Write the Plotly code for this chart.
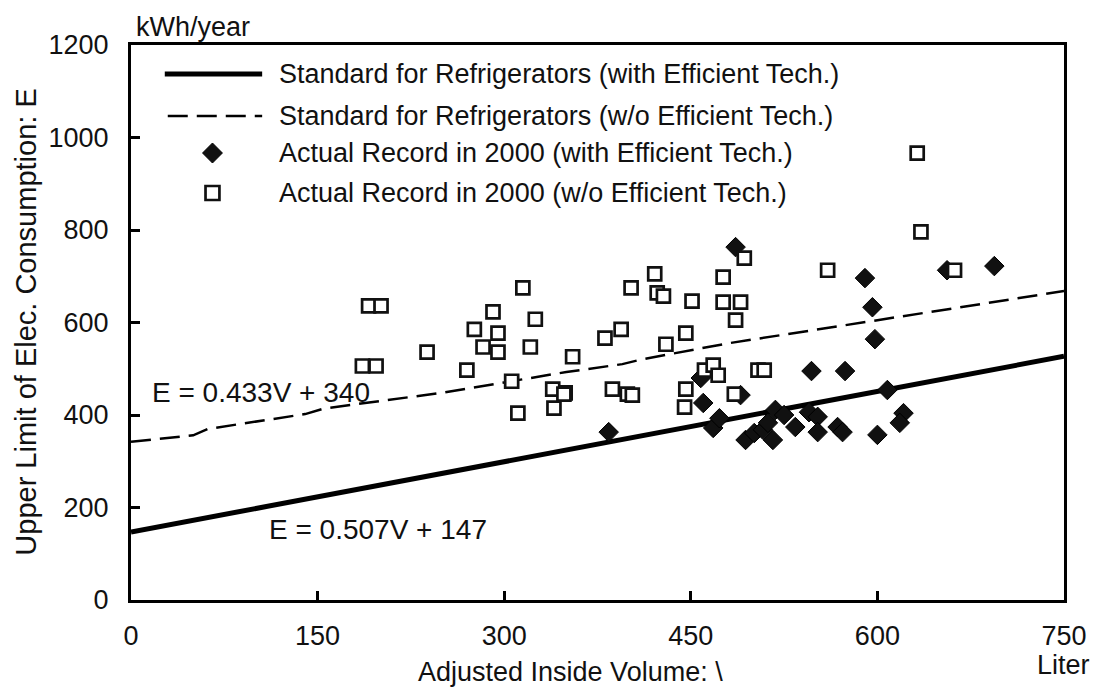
import plotly.graph_objects as go

# ---------------- data ----------------
std_with_V = [0, 750]
std_with_E = [147, 527]

std_wo_V = [0, 50, 62, 140, 155, 250, 350, 395, 410, 480, 600, 750]
std_wo_E = [342, 356, 370, 402, 414, 448, 493, 510, 520, 555, 605, 668]

rec_with_V = [486, 590, 596, 598, 656, 694, 547, 574, 384, 460, 458, 468, 473, 490,
              494, 501, 508, 516, 518, 525, 534, 545, 552, 552, 568, 572, 600, 608,
              621, 618, 512]
rec_with_E = [763, 696, 633, 564, 713, 722, 495, 495, 363, 426, 480, 372, 393, 443,
              346, 361, 368, 346, 411, 400, 374, 406, 396, 363, 374, 363, 357, 454,
              404, 383, 383]

rec_wo_V = [632, 635, 560, 662, 493, 476, 476, 490, 486, 421, 402, 423, 428, 451,
            394, 381, 446, 430, 355, 349, 387, 399, 403, 446, 445, 461, 468, 472,
            485, 504, 509, 315, 291, 325, 276, 295, 283, 295, 321, 238, 270, 306,
            339, 348, 311, 340, 186, 197, 191, 201]
rec_wo_E = [966, 796, 713, 713, 739, 698, 644, 644, 605, 705, 675, 664, 657, 646,
            585, 566, 577, 553, 526, 448, 456, 445, 443, 456, 417, 497, 508, 486,
            445, 497, 497, 675, 623, 607, 585, 577, 547, 536, 547, 536, 497, 473,
            456, 445, 404, 415, 506, 506, 636, 636]

x_ticks = [0, 150, 300, 450, 600, 750]
y_ticks = [0, 200, 400, 600, 800, 1000, 1200]

legend_labels = [
    "Standard for Refrigerators (with Efficient Tech.)",
    "Standard for Refrigerators (w/o Efficient Tech.)",
    "Actual Record in 2000 (with Efficient Tech.)",
    "Actual Record in 2000 (w/o Efficient Tech.)",
]

# ---------------- layout helpers ----------------
W, H = 1099, 691
L, R, T, B = 131, 1070, 45, 600
FONT = "Arial, Liberation Sans, sans-serif"
TXT = "#111111"
FS = 27


def px(x):
    return (x - L) / (R - L)


def py(y):
    return (B - y) / (B - T)


fig = go.Figure()

fig.add_trace(go.Scatter(x=std_with_V, y=std_with_E, mode="lines",
                         line=dict(color="black", width=5), name=legend_labels[0],
                         showlegend=False))
fig.add_trace(go.Scatter(x=std_wo_V, y=std_wo_E, mode="lines",
                         line=dict(color="black", width=2.5, dash="20px,9px"),
                         name=legend_labels[1], showlegend=False))
fig.add_trace(go.Scatter(x=rec_with_V, y=rec_with_E, mode="markers",
                         marker=dict(symbol="diamond", size=15, color="#111111",
                                     line=dict(color="black", width=1)),
                         name=legend_labels[2], showlegend=False))
fig.add_trace(go.Scatter(x=rec_wo_V, y=rec_wo_E, mode="markers",
                         marker=dict(symbol="square", size=13, color="white",
                                     line=dict(color="#111111", width=2.7)),
                         name=legend_labels[3], showlegend=False))

# ---------------- custom legend ----------------
shapes = []
annotations = []
rows_y = [74, 116, 153, 193]
shapes.append(dict(type="line", xref="paper", yref="paper",
                   x0=px(165), x1=px(263), y0=py(rows_y[0]), y1=py(rows_y[0]),
                   line=dict(color="black", width=5)))
shapes.append(dict(type="line", xref="paper", yref="paper",
                   x0=px(168), x1=px(263), y0=py(rows_y[1]), y1=py(rows_y[1]),
                   line=dict(color="black", width=2.5, dash="20px,9px")))
cx, cy, r = 213, rows_y[2], 10
shapes.append(dict(type="path", xref="paper", yref="paper",
                   path=f"M {px(cx - r)} {py(cy)} L {px(cx)} {py(cy - r)} L {px(cx + r)} {py(cy)} L {px(cx)} {py(cy + r)} Z",
                   fillcolor="#111111", line=dict(color="black", width=1)))
cy, s = rows_y[3], 7
shapes.append(dict(type="rect", xref="paper", yref="paper",
                   x0=px(cx - s), x1=px(cx + s), y0=py(cy + s), y1=py(cy - s),
                   fillcolor="white", line=dict(color="#111111", width=2.7)))
for lab, yy in zip(legend_labels, rows_y):
    annotations.append(dict(text=lab, xref="paper", yref="paper", x=px(278), y=py(yy),
                            xanchor="left", yanchor="middle", showarrow=False,
                            font=dict(family=FONT, size=FS, color=TXT)))

# ---------------- other texts ----------------
annotations += [
    dict(text="E = 0.433V + 340", xref="paper", yref="paper", x=px(150), y=py(392),
         xanchor="left", yanchor="middle", showarrow=False,
         font=dict(family=FONT, size=28, color=TXT)),
    dict(text="E = 0.507V + 147", xref="paper", yref="paper", x=px(268), y=py(529),
         xanchor="left", yanchor="middle", showarrow=False,
         font=dict(family=FONT, size=28, color=TXT)),
    dict(text="kWh/year", xref="paper", yref="paper", x=px(134), y=py(27),
         xanchor="left", yanchor="middle", showarrow=False,
         font=dict(family=FONT, size=FS, color=TXT)),
    dict(text="Liter", xref="paper", yref="paper", x=px(1069), y=py(665),
         xanchor="center", yanchor="middle", showarrow=False,
         font=dict(family=FONT, size=FS, color=TXT)),
    dict(text="Adjusted Inside Volume: \\", xref="paper", yref="paper", x=px(573), y=py(689),
         xanchor="center", yanchor="bottom", showarrow=False,
         font=dict(family=FONT, size=27, color=TXT)),
    dict(text="Upper Limit of Elec. Consumption: E", xref="paper", yref="paper",
         x=px(25), y=py(322), xanchor="center", yanchor="middle", textangle=-90,
         showarrow=False, font=dict(family=FONT, size=29, color=TXT)),
]

axis_common = dict(showline=True, linecolor="black", linewidth=3, mirror=True,
                   ticks="inside", ticklen=9, tickwidth=2.5, tickcolor="black",
                   showgrid=False, zeroline=False,
                   tickfont=dict(family=FONT, size=FS, color=TXT))

fig.update_layout(
    width=W, height=H,
    margin=dict(l=L, r=W - R, t=T, b=H - B, pad=0),
    paper_bgcolor="white", plot_bgcolor="white",
    showlegend=False,
    xaxis=dict(range=[0, 750], tickvals=x_ticks, ticktext=[str(v) for v in x_ticks],
               ticklabelstandoff=10, **axis_common),
    yaxis=dict(range=[0, 1200], tickvals=y_ticks, ticktext=[str(v) for v in y_ticks],
               ticklabelstandoff=14, **axis_common),
    shapes=shapes,
    annotations=annotations,
)

fig.write_html("out.html")
